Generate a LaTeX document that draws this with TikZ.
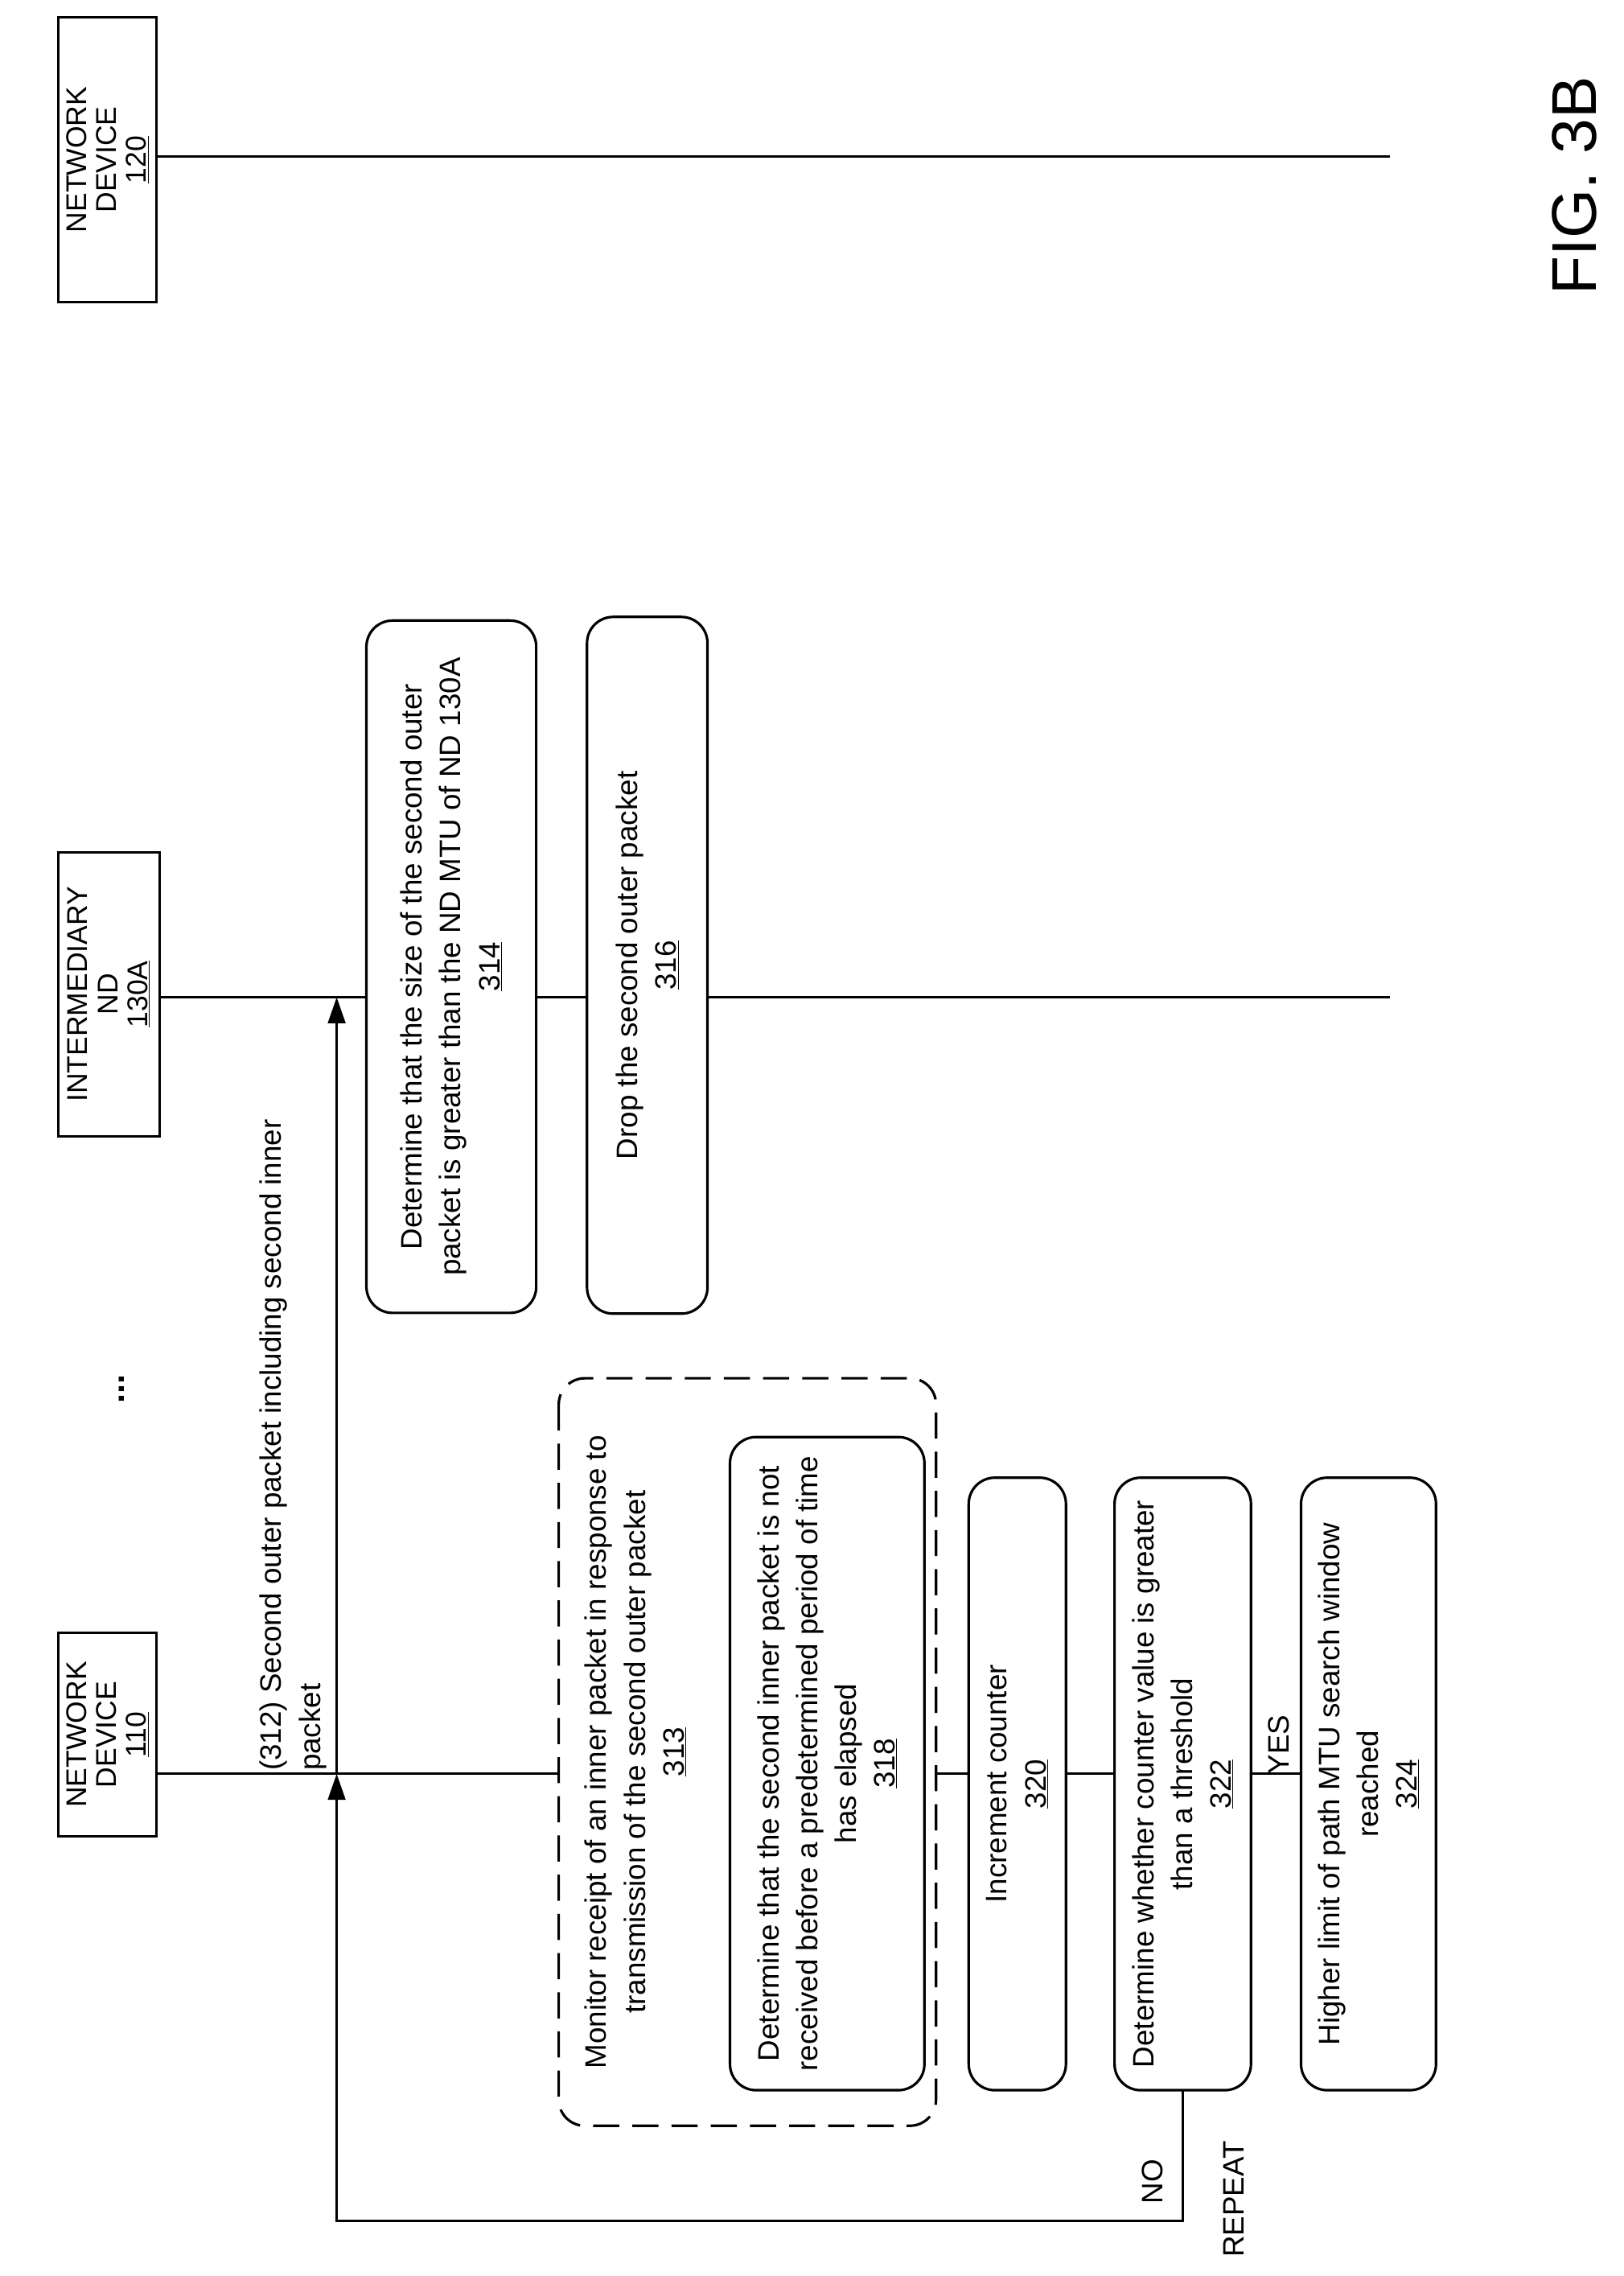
\documentclass[tikz,border=0pt]{standalone}
\usepackage{fontspec}
\setmainfont{Liberation Sans}
\usetikzlibrary{arrows.meta,positioning}
\begin{document}
\begin{tikzpicture}[x=0.05cm,y=-0.05cm,
  every node/.style={font=\fontsize{29}{38}\selectfont, rotate=90, align=center, inner sep=0pt},
  dev/.style={draw, line width=2.5pt, font=\fontsize{28}{29.5}\selectfont},
  box/.style={draw, line width=2.5pt, rounded corners=0.9cm},
  ln/.style={line width=2.5pt},
  arr/.style={line width=2.5pt, -{Triangle[length=0.9cm,width=0.6cm]}}]
\useasboundingbox (0,0) rectangle (1119,1568);
\node[dev, minimum width=7cm, minimum height=3.4cm] (n110) at (74,1195) {NETWORK\\DEVICE\\\underline{110}};
\node[dev, minimum width=9.8cm, minimum height=3.5cm] (n130) at (75,685) {INTERMEDIARY\\ND\\\underline{130A}};
\node[dev, minimum width=9.8cm, minimum height=3.4cm] (n120) at (74,110) {NETWORK\\DEVICE\\\underline{120}};
\node[box, minimum width=23.85cm, minimum height=5.85cm] (n314) at (311,666) {Determine that the size of the second outer\\packet is greater than the ND MTU of ND 130A\\\underline{314}};
\node[box, minimum width=24cm, minimum height=4.15cm] (n316) at (446,665) {Drop the second outer packet\\\underline{316}};
\node[draw, dash pattern=on 0.9cm off 0.45cm, line width=2.5pt, rounded corners=0.9cm, minimum width=25.75cm, minimum height=13cm] (n313) at (515,1207) {};
\node (t313) at (438,1207) {Monitor receipt of an inner packet in response to\\transmission of the second outer packet\\\underline{313}};
\node[box, minimum width=22.5cm, minimum height=6.7cm] (n318) at (570,1215) {Determine that the second inner packet is not\\received before a predetermined period of time\\has elapsed\\\underline{318}};
\node[box, minimum width=21.1cm, minimum height=3.35cm] (n320) at (701,1229) {Increment counter\\\underline{320}};
\node[box, minimum width=21.1cm, minimum height=4.7cm] (n322) at (815,1229) {Determine whether counter value is greater\\than a threshold\\\underline{322}};
\node[box, minimum width=21.1cm, minimum height=4.65cm] (n324) at (943,1229) {Higher limit of path MTU search window\\reached\\\underline{324}};
\coordinate (l1) at (0,1222);
\coordinate (l2) at (0,687);
\coordinate (l3) at (0,108);
\draw[ln] (n110.south |- l1) -- (n313.north |- l1);
\draw[ln] (n313.south |- l1) -- (n320.north |- l1);
\draw[ln] (n320.south |- l1) -- (n322.north |- l1);
\draw[ln] (n322.south |- l1) -- (n324.north |- l1);
\draw[ln] (n130.south |- l2) -- (n314.north |- l2);
\draw[ln] (n314.south |- l2) -- (n316.north |- l2);
\draw[ln] (n316.south |- l2) -- (958,687);
\draw[ln] (n120.south |- l3) -- (958,108);
\coordinate (c322) at (815,1440);
\coordinate (cl) at (815,1530);
\coordinate (cb) at (232,1530);
\coordinate (a1) at (232,1222);
\coordinate (a2) at (232,687);
\draw[arr] (c322) -- (cl) -- (cb) -- (a1);
\draw[arr] (a1) -- (a2);
\node[anchor=south west, align=left] (lab312) at (225,1220) {(312) Second outer packet including second inner\\packet};
\node (no) at (794,1503) {NO};
\node (rep) at (850,1515) {REPEAT};
\node (yes) at (881,1202) {YES};
\node[font=\fontsize{34}{40}\selectfont\bfseries] (dots) at (84,957) {...};
\node[font=\fontsize{62}{70}\selectfont] (fig) at (1085,128) {FIG. 3B};
\end{tikzpicture}
\end{document}
